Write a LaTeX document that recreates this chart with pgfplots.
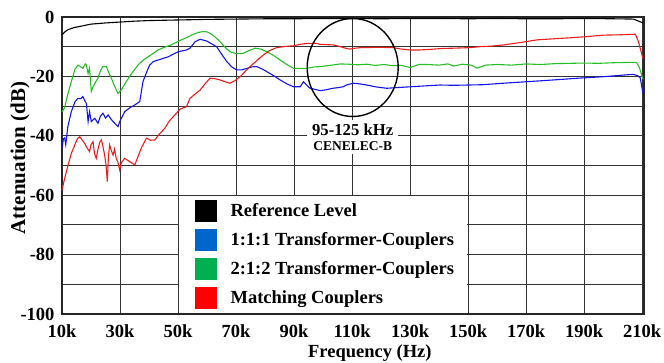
\documentclass[border=0pt]{standalone}
\usepackage{pgfplots}
\pgfplotsset{compat=1.18}
\usepackage{fontspec}
\setmainfont{Liberation Serif}
\definecolor{lgblue}{RGB}{0,102,204}
\definecolor{lggreen}{RGB}{0,176,80}
\definecolor{lgred}{RGB}{255,0,0}
\definecolor{lnblue}{RGB}{20,20,235}
\definecolor{lngreen}{RGB}{40,190,40}
\definecolor{lnred}{RGB}{235,30,30}
\newcommand{\bigf}{\fontsize{18.5}{22}\selectfont\bfseries}
\begin{document}
\begin{tikzpicture}
\useasboundingbox (-62pt,-48pt) rectangle (602pt,314pt);
\begin{axis}[
  scale only axis, width=582pt, height=297pt,
  at={(0,0)}, anchor=south west,
  xmin=10, xmax=210.6, ymin=-100, ymax=0,
  xtick={10,30,...,210},
  xticklabels={10k,30k,50k,70k,90k,110k,130k,150k,170k,190k,210k},
  ytick={-100,-80,...,0},
  minor ytick={-90,-70,...,-10},
  grid=both,
  major grid style={black!80, line width=0.9pt},
  minor grid style={black!80, line width=0.9pt},
  axis line style={black!85, line width=1.4pt},
  tick style={black!80, line width=0.8pt},
  major tick length=3pt, minor tick length=0pt,
  tick align=inside,
  ticklabel style={font=\bigf},
  /pgf/number format/assume math mode=true,
  yticklabel style={xshift=-4pt},
  xticklabel style={yshift=-7pt},
  xlabel={Frequency (Hz)},
  ylabel={Attenuation (dB)},
  xlabel style={font=\bigf, at={(axis description cs:0.529,-0.130)}, anchor=center},
  ylabel style={font=\fontsize{21}{24}\selectfont\bfseries, at={(axis description cs:-0.0720,0.525)}, anchor=center},
  legend style={at={(axis cs:55.2,-61.0)}, anchor=north west, draw=none, fill=none,
    font=\bigf, row sep=7.6pt, inner sep=2pt,
    nodes={inner sep=1pt}},
  legend cell align=left,
  clip=false,
]
% white legend backdrop
\fill[white] (axis cs:50.35,-60.35) rectangle (axis cs:149.7,-99.55);

\addlegendimage{legend image code/.code={\fill[black] (0pt,-10.5pt) rectangle (21pt,10.5pt);\path[draw=none,fill=none] (0pt,0pt) -- (34pt,0pt);}}
\addlegendentry{Reference Level}
\addlegendimage{legend image code/.code={\fill[lgblue] (0pt,-10.5pt) rectangle (21pt,10.5pt);\path[draw=none,fill=none] (0pt,0pt) -- (34pt,0pt);}}
\addlegendentry{1:1:1 Transformer-Couplers}
\addlegendimage{legend image code/.code={\fill[lggreen] (0pt,-10.5pt) rectangle (21pt,10.5pt);\path[draw=none,fill=none] (0pt,0pt) -- (34pt,0pt);}}
\addlegendentry{2:1:2 Transformer-Couplers}
\addlegendimage{legend image code/.code={\fill[lgred] (0pt,-10.5pt) rectangle (21pt,10.5pt);\path[draw=none,fill=none] (0pt,0pt) -- (34pt,0pt);}}
\addlegendentry{Matching Couplers}

% Reference level
\addplot[black, line width=1.1pt, forget plot] coordinates {
(10,-6) (11,-5) (12,-4.3) (14,-3.6) (17,-3.0) (20,-2.4) (25,-2.0) (30,-1.7)
(35,-1.4) (40,-1.2) (50,-1.0) (60,-0.8) (70,-0.7) (80,-0.6) (90,-0.6) (100,-0.5)
(110,-0.5) (120,-0.6) (130,-0.5) (140,-0.5) (150,-0.6) (160,-0.5) (170,-0.6)
(180,-0.6) (190,-0.5) (200,-0.6) (207,-0.7) (209,-1.5) (210.3,-2)
};
% Blue
\addplot[lnblue, line width=1.1pt, forget plot] coordinates {
(10,-44.1) (10.5,-41) (10.9,-40.7) (11.3,-43) (12,-37) (13.2,-31.9) (14.5,-28.5)
(15.5,-27.4) (16.5,-27.5) (17.2,-26.8) (18,-28.5) (18.4,-29.1) (19,-35.2) (19.5,-31.9)
(20.1,-35.2) (21.3,-34.1) (22.4,-35.8) (23.2,-33.5) (24.1,-32.4) (25,-34) (25.9,-33)
(27,-34.5) (27.6,-35.2) (29.3,-36.9) (30,-35) (31.6,-31.9) (33.5,-30.5) (35.1,-29.6)
(36.8,-28.5) (37.9,-21.8) (39,-19) (40.2,-16.2) (41.5,-15) (43.1,-14.5) (46.6,-13.4)
(50,-11.7) (52.9,-11.1) (54.1,-10.5) (55.9,-8.3) (57.6,-7.5) (59.9,-8.1) (61.5,-9)
(63.3,-10) (65,-12.5) (66.8,-15) (68.5,-16.8) (70.2,-17.8) (72,-17.8) (73.7,-17.3)
(75.5,-16.8) (77.1,-16.7) (79,-17.5) (80.6,-18.4) (83,-19.8) (85.2,-21.2) (87.5,-22.5)
(89.8,-23.5) (92.1,-23.5) (93.2,-21.8) (94.4,-23) (95.5,-24.0) (97,-24.3) (99,-24.8)
(101,-24.5) (103.4,-24) (105,-23.8) (106.9,-23.5) (108,-22.9) (110.3,-22.3) (112.5,-22.5)
(115,-22.9) (118,-23.5) (121.9,-24) (125,-23.8) (130,-23.5) (135,-23.2) (140.3,-22.9)
(145,-23) (150,-22.9) (155,-22.8) (162,-22.3) (170,-21.8) (179.3,-21.2) (188,-20.6)
(196.6,-20.1) (203,-19.6) (206.9,-19.3) (208.5,-19.8) (209.3,-20.5) (210.3,-26)
};
% Green
\addplot[lngreen, line width=1.1pt, forget plot] coordinates {
(10,-31.9) (10.9,-30.6) (12,-26) (13.2,-21.8) (14.5,-17.5) (15.5,-16.2) (16.5,-16.8)
(17.2,-17.3) (18.0,-15.8) (18.4,-16.2) (19.0,-19) (19.5,-17.2) (20.1,-25.1) (20.7,-23.5)
(21.5,-22) (22.4,-20.6) (23.3,-18) (24.1,-16.7) (25.3,-16.7) (26,-18.5) (27,-20.6)
(28.2,-23.5) (29.3,-25.7) (30.4,-24.6) (32,-22) (34,-19) (36.2,-16.2) (38,-14.5)
(39.7,-13.4) (41.5,-12.2) (43.1,-11.1) (45,-10.3) (47.6,-9.4) (50.7,-7.9) (52.8,-7.0)
(55.3,-5.8) (57,-5.2) (58.7,-4.9) (60,-5.0) (61,-5.5) (62.5,-6.5) (64.5,-8.3) (66,-10)
(67.9,-11.7) (70,-12.3) (72.5,-12.2) (74.5,-11.3) (76.6,-10.5) (78.5,-10.8) (80.6,-11.7)
(83,-13) (85.2,-14.5) (87.5,-16) (89.8,-17.3) (92,-17.3) (94.4,-17.3) (97,-16.8)
(99,-16.7) (103,-16.2) (106,-15.8) (109,-15.9) (112,-16.1) (115,-15.9) (118,-16.3)
(121,-16.0) (124,-16.4) (127,-16.3) (130,-17.0) (133,-16.0) (136,-16.0) (140,-16.2)
(143,-15.8) (145,-16.5) (148,-15.9) (151,-16.2) (153,-17.2) (156,-16.2) (160,-16.0)
(165,-16.2) (170,-15.8) (175,-16.0) (180,-15.7) (185,-15.6) (190,-15.5) (195,-15.6)
(200,-15.4) (205,-15.3) (208,-15.3) (209,-17) (210.3,-21)
};
% Red
\addplot[lnred, line width=1.1pt, forget plot] coordinates {
(10,-58.2) (11,-54) (12.1,-49.8) (13.2,-46) (14.4,-43.1) (15.3,-41) (16.1,-40.3)
(17,-41.5) (17.8,-42.5) (18.6,-44) (19.5,-45.3) (20,-43) (20.7,-42) (21.2,-46)
(21.8,-47.6) (22.5,-44) (23.1,-42) (23.6,-41.4) (24.2,-44) (24.7,-46.5) (25.2,-50)
(25.6,-55.4) (26,-47) (26.4,-43.1) (27,-45) (27.6,-46.5) (28.1,-44.5) (28.7,-47.6)
(29.3,-49) (29.9,-51.5) (30.5,-49) (31.6,-47.6) (33,-48.5) (35.1,-49.8) (36.2,-47)
(37.3,-44.2) (39.1,-40.8) (40.5,-41.5) (42,-41.4) (43.5,-39.5) (45.4,-37.5) (47,-35)
(48.9,-33) (50.7,-31) (52.9,-30.2) (54.1,-27.4) (55.8,-26) (57.6,-24.6) (59.3,-22.5)
(61,-20.6) (62.8,-20.8) (64.5,-21.2) (66.2,-21.8) (67.9,-22.3) (69.5,-21.5) (71.4,-20.1)
(73,-18.5) (74.8,-16.7) (77,-14.8) (79.4,-12.8) (81.6,-11.3) (84,-10.3) (87,-9.9)
(89.8,-9.7) (92,-9.2) (94.4,-8.9) (97.8,-8.9) (99,-9.2) (101,-9.3) (103.5,-9.4)
(106,-10) (108,-10.6) (109.3,-10.8) (111,-10.5) (113,-10.3) (115,-10.3) (119,-10.2)
(124.2,-10.3) (127,-10.8) (130,-11.1) (133.4,-11.1) (137,-10.9) (141,-10.6) (144.9,-10.5)
(148,-10.4) (150.7,-10.3) (154.1,-10) (158,-9.8) (162.2,-9.4) (168,-8.6) (173.7,-7.7)
(180,-7.3) (185.2,-7.0) (191,-6.6) (196.7,-6.1) (202,-6.0) (207.6,-5.8) (208.7,-8.3)
(209.9,-12.8) (210.3,-14)
};

% CENELEC-B annotation
\draw[black, line width=1.4pt] (axis cs:110.2,-17.0) ellipse [x radius=45.5pt, y radius=49pt];
\fill[white] (axis cs:94.5,-34.6) rectangle (axis cs:125.9,-46.2);
\node[inner sep=0pt, font=\fontsize{16.7}{19}\selectfont\bfseries] at (axis cs:110.2,-38.0) {95-125 kHz};
\node[inner sep=0pt, font=\fontsize{13.5}{15}\selectfont\bfseries] at (axis cs:110.2,-43.6) {CENELEC-B};
\end{axis}
\end{tikzpicture}
\end{document}
